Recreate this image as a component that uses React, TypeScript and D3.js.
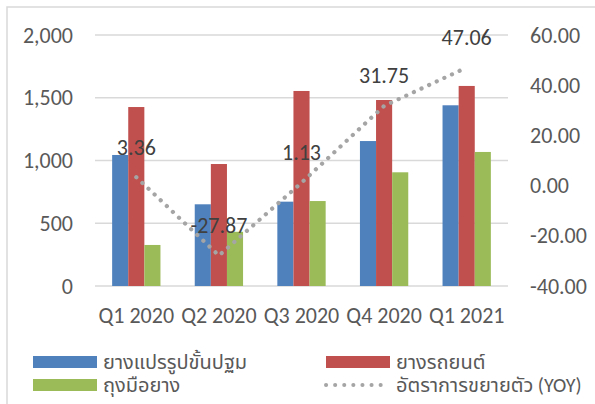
import React from "react";
import * as d3 from "d3";

const categories = ["Q1 2020", "Q2 2020", "Q3 2020", "Q4 2020", "Q1 2021"];
const processedRubber = [1044, 651, 672, 1155, 1440];
const tyres = [1426, 972, 1554, 1482, 1594];
const gloves = [327, 432, 677, 906, 1068];
const yoy = [3.36, -27.87, 1.13, 31.75, 47.06];
const leftTicks = [0, 500, 1000, 1500, 2000];
const rightTicks = [-40, -20, 0, 20, 40, 60];

const seriesNames = ["ยางแปรรูปขั้นปฐม", "ยางรถยนต์", "ถุงมือยาง", "อัตราการขยายตัว (YOY)"];
const colors = ["#4f81bd", "#c0504d", "#9bbb59"];

const W = 595;
const H = 404;
const plot = { left: 95, right: 508, top: 35, bottom: 286 };
const font = "Calibri, Carlito, 'Noto Sans', 'Noto Sans Thai', sans-serif";

const App = () => {
  const x = d3
    .scaleBand<string>()
    .domain(categories)
    .range([plot.left, plot.right]);
  const bandW = x.bandwidth();
  const barW = bandW * 0.195;
  const yLeft = d3.scaleLinear().domain([0, 2000]).range([plot.bottom, plot.top]);
  const yRight = d3.scaleLinear().domain([-40, 60]).range([plot.bottom, plot.top]);

  const bars = [processedRubber, tyres, gloves];

  const line = d3
    .line<number>()
    .x((_, i) => x(categories[i])! + bandW / 2)
    .y(d => yRight(d));

  return (
    <svg
      width={W}
      height={H}
      style={{ position: "absolute", left: 0, top: 0, background: "#fff" }}
      fontFamily={font}
    >
      <rect x={7} y={7} width={W} height={H} fill="#fff" stroke="#d9d9d9" strokeWidth={1.5} />

      {leftTicks.map(t => (
        <line
          key={t}
          x1={plot.left}
          x2={plot.right}
          y1={yLeft(t)}
          y2={yLeft(t)}
          stroke="#d9d9d9"
          strokeWidth={1.5}
        />
      ))}

      {bars.map((vals, s) =>
        vals.map((v, i) => (
          <rect
            key={`${s}-${i}`}
            x={x(categories[i])! + bandW / 2 - 1.5 * barW + s * barW}
            y={yLeft(v)}
            width={barW}
            height={yLeft(0) - yLeft(v)}
            fill={colors[s]}
          />
        ))
      )}

      <path
        d={line(yoy) || ""}
        fill="none"
        stroke="#a5a5a5"
        strokeWidth={4.2}
        strokeLinecap="round"
        strokeDasharray="0.1 8.3"
      />

      {yoy.map((v, i) => (
        <text
          key={i}
          x={x(categories[i])! + bandW / 2}
          y={yRight(v) - 30}
          textAnchor="middle"
          dominantBaseline="central"
          fontSize={22}
          fill="#404040"
        >
          {v.toFixed(2)}
        </text>
      ))}

      {leftTicks.map(t => (
        <text
          key={t}
          x={73}
          y={yLeft(t)}
          textAnchor="end"
          dominantBaseline="central"
          fontSize={22}
          fill="#595959"
        >
          {d3.format(",")(t)}
        </text>
      ))}

      {rightTicks.map(t => (
        <text
          key={t}
          x={530}
          y={yRight(t)}
          textAnchor="start"
          dominantBaseline="central"
          fontSize={22}
          fill="#595959"
        >
          {t.toFixed(2)}
        </text>
      ))}

      {categories.map(c => (
        <text
          key={c}
          x={x(c)! + bandW / 2}
          y={315}
          textAnchor="middle"
          dominantBaseline="central"
          fontSize={22}
          fill="#595959"
        >
          {c}
        </text>
      ))}

      {/* legend */}
      {[
        { x: 33, y: 362, s: 0 },
        { x: 326, y: 362, s: 1 },
        { x: 33, y: 385, s: 2 },
        { x: 326, y: 385, s: 3 },
      ].map(({ x: lx, y: ly, s }) => (
        <g key={s}>
          {s < 3 ? (
            <rect x={lx} y={ly - 6} width={64} height={12} fill={colors[s]} />
          ) : (
            <line
              x1={lx}
              x2={lx + 60}
              y1={ly}
              y2={ly}
              stroke="#a5a5a5"
              strokeWidth={4}
              strokeLinecap="round"
              strokeDasharray="0.1 9"
            />
          )}
          <text
            x={lx + 70}
            y={ly}
            dominantBaseline="central"
            fontSize={20}
            fill="#595959"
          >
            {seriesNames[s]}
          </text>
        </g>
      ))}
    </svg>
  );
};

export default App;
